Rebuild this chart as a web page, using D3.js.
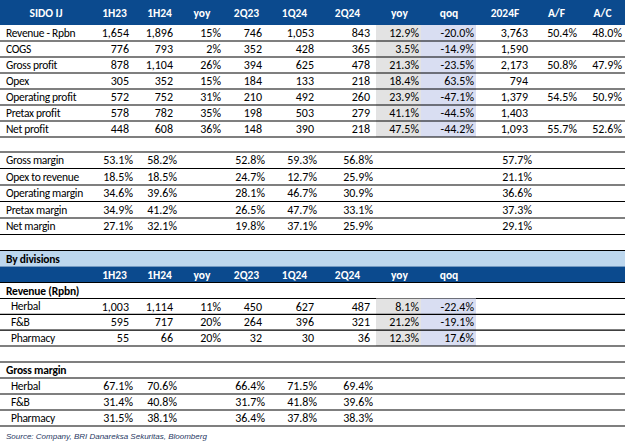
<!DOCTYPE html>
<html><head><meta charset="utf-8">
<script src="https://cdn.jsdelivr.net/npm/d3@7"></script>
<style>html,body{margin:0;padding:0;background:#fff;}svg{display:block;}</style>
</head><body>
<script>
// ---------- DATA ----------
const headerCols = ["1H23","1H24","yoy","2Q23","1Q24","2Q24","yoy","qoq","2024F","A/F","A/C"];
const plLabels = ["Revenue - Rpbn","COGS","Gross profit","Opex","Operating profit","Pretax profit","Net profit"];
const h1_23 = [1654,776,878,305,572,578,448];
const h1_24 = [1896,793,1104,352,752,782,608];
const h1_yoy = [15,2,26,15,31,35,36];
const q2_23 = [746,352,394,184,210,198,148];
const q1_24 = [1053,428,625,133,492,503,390];
const q2_24 = [843,365,478,218,260,279,218];
const q_yoy = [12.9,3.5,21.3,18.4,23.9,41.1,47.5];
const q_qoq = [-20.0,-14.9,-23.5,63.5,-47.1,-44.5,-44.2];
const fy24 = [3763,1590,2173,794,1379,1403,1093];
const a_f = [50.4,null,50.8,null,54.5,null,55.7];
const a_c = [48.0,null,47.9,null,50.9,null,52.6];

const marginLabels = ["Gross margin","Opex to revenue","Operating margin","Pretax margin","Net margin"];
const m_h23 = [53.1,18.5,34.6,34.9,27.1];
const m_h24 = [58.2,18.5,39.6,41.2,32.1];
const m_q223 = [52.8,24.7,28.1,26.5,19.8];
const m_q124 = [59.3,12.7,46.7,47.7,37.1];
const m_q224 = [56.8,25.9,30.9,33.1,25.9];
const m_fy24 = [57.7,21.1,36.6,37.3,29.1];

const divTitle = "By divisions";
const divRevTitle = "Revenue (Rpbn)";
const divGmTitle = "Gross margin";
const divLabels = ["Herbal","F&B","Pharmacy"];
const d_h23 = [1003,595,55];
const d_h24 = [1114,717,66];
const d_hyoy = [11,20,20];
const d_q223 = [450,264,32];
const d_q124 = [627,396,30];
const d_q224 = [487,321,36];
const d_yoy = [8.1,21.2,12.3];
const d_qoq = [-22.4,-19.1,17.6];
const gm_h23 = [67.1,31.4,31.5];
const gm_h24 = [70.6,40.8,38.1];
const gm_q223 = [66.4,31.7,36.4];
const gm_q124 = [71.5,41.8,37.8];
const gm_q224 = [69.4,39.6,38.3];
const sourceText = "Source: Company, BRI Danareksa Sekuritas, Bloomberg";

// ---------- LAYOUT ----------
const W = 626, H = 444;
const FONT = "Carlito, Calibri, Lato, 'Noto Sans', sans-serif";
const BLUE = "#0b4a8e", LIGHT = "#bdd7ee", GREY = "#e3e3e3", LAV = "#d9def2";
const colIdx = d3.range(headerCols.length);
const xCenter = d3.scaleOrdinal().domain(colIdx).range([114.5,159.5,202,246.5,294.5,347.5,399.5,449,505,556.5,602.5]);
const xRight = d3.scaleOrdinal().domain(colIdx).range([129,173,221,262,314,370,419,474,528,577,622]);
const xPctRight = d3.scaleOrdinal().domain(colIdx).range([133,177,221,265,317,373,419,474,532,577,622]);
const bandX = {yoy:[376,421], qoq:[421,476]};

const loc = d3.formatLocale({decimal:".",thousands:",",grouping:[3],currency:["",""],minus:"-"});
const fNum = loc.format(",");
const fP0 = v => loc.format(".0f")(v) + "%";
const fP1 = v => loc.format(".1f")(v) + "%";

const svg = d3.select("body").append("svg").attr("width", W).attr("height", H)
  .style("font-family", FONT);

function hline(y){ svg.append("line").attr("x1",0).attr("x2",625).attr("y1",y).attr("y2",y)
  .attr("stroke","#000").attr("stroke-width",1.2); }
function text(x,y,t,opt={}){
  return svg.append("text").attr("x",x).attr("y",y).attr("dy","0.35em")
    .attr("text-anchor",opt.anchor||"start").attr("font-size",opt.size||12)
    .attr("font-weight",opt.bold?"bold":"normal").attr("fill",opt.fill||"#000")
    .attr("letter-spacing",opt.ls||0)
    .attr("font-style",opt.italic?"italic":"normal").text(t);
}
const LBL = {size:11.5, ls:-0.3};
function headerRow(y0,y1,labels,first){
  svg.append("rect").attr("x",0).attr("y",y0).attr("width",625).attr("height",y1-y0).attr("fill",BLUE);
  const ym = (y0+y1)/2;
  if(first) text(46,ym,first,{anchor:"middle",bold:true,fill:"#fff",size:11.5});
  labels.forEach((l,i)=> text(xCenter(i),ym,l,{anchor:"middle",bold:true,fill:"#fff",size:11.5}));
}

// ---- Section 1: P&L ----
headerRow(0,25,headerCols,"SIDO IJ");
const y1 = d3.scaleBand().domain(plLabels).range([25,137]);
svg.append("rect").attr("x",bandX.yoy[0]).attr("y",25).attr("width",bandX.yoy[1]-bandX.yoy[0]).attr("height",112).attr("fill",GREY);
svg.append("rect").attr("x",bandX.qoq[0]).attr("y",25).attr("width",bandX.qoq[1]-bandX.qoq[0]).attr("height",112).attr("fill",LAV);
const plCols = [[h1_23,fNum],[h1_24,fNum],[h1_yoy,fP0],[q2_23,fNum],[q1_24,fNum],[q2_24,fNum],[q_yoy,fP1],[q_qoq,fP1],[fy24,fNum],[a_f,fP1],[a_c,fP1]];
plLabels.forEach((lab,r)=>{
  const ym = y1(lab)+y1.bandwidth()/2;
  text(6,ym,lab,LBL);
  plCols.forEach(([arr,f],c)=>{ if(arr[r]!=null) text(xRight(c),ym,f(arr[r]),{anchor:"end"}); });
  hline(y1(lab)+y1.bandwidth());
});

// ---- Section 2: margins ----
const y2 = d3.scaleBand().domain(marginLabels).range([152,234.5]);
hline(152);
const mCols = [[0,m_h23],[1,m_h24],[3,m_q223],[4,m_q124],[5,m_q224],[8,m_fy24]];
marginLabels.forEach((lab,r)=>{
  const ym = y2(lab)+y2.bandwidth()/2;
  text(6,ym,lab,LBL);
  mCols.forEach(([c,arr])=> text(xPctRight(c),ym,fP1(arr[r]),{anchor:"end"}));
  hline(y2(lab)+y2.bandwidth());
});

// ---- Section 3: divisions ----
svg.append("rect").attr("x",0).attr("y",250.5).attr("width",625).attr("height",16).attr("fill",LIGHT);
hline(250.5);
text(6,258.5,divTitle,{bold:true,size:11.5,ls:-0.2});
headerRow(266.5,282.5,headerCols.slice(0,8),null);
hline(282.5);
text(6,290.5,divRevTitle,{bold:true,size:11.5,ls:-0.2});
hline(298.5);
const y3 = d3.scaleBand().domain(divLabels).range([298.5,346]);
svg.append("rect").attr("x",bandX.yoy[0]).attr("y",298.5).attr("width",bandX.yoy[1]-bandX.yoy[0]).attr("height",47.5).attr("fill",GREY);
svg.append("rect").attr("x",bandX.qoq[0]).attr("y",298.5).attr("width",bandX.qoq[1]-bandX.qoq[0]).attr("height",47.5).attr("fill",LAV);
const dCols = [[d_h23,fNum],[d_h24,fNum],[d_hyoy,fP0],[d_q223,fNum],[d_q124,fNum],[d_q224,fNum],[d_yoy,fP1],[d_qoq,fP1]];
divLabels.forEach((lab,r)=>{
  const ym = y3(lab)+y3.bandwidth()/2;
  text(11,ym,lab,LBL);
  dCols.forEach(([arr,f],c)=> text(xRight(c),ym,f(arr[r]),{anchor:"end"}));
  hline(y3(lab)+y3.bandwidth());
});

// ---- Section 4: division gross margin ----
hline(362);
text(6,370,divGmTitle,{bold:true,size:11.5,ls:-0.2});
hline(378);
const y4 = d3.scaleBand().domain(divLabels).range([378,426]);
const gCols = [[0,gm_h23],[1,gm_h24],[3,gm_q223],[4,gm_q124],[5,gm_q224]];
divLabels.forEach((lab,r)=>{
  const ym = y4(lab)+y4.bandwidth()/2;
  text(11,ym,lab,LBL);
  gCols.forEach(([c,arr])=> text(xPctRight(c),ym,fP1(arr[r]),{anchor:"end"}));
  hline(y4(lab)+y4.bandwidth());
});

text(6,436,sourceText,{italic:true,size:8,fill:"#1f3864"}).style("font-family","'Liberation Sans', Arial, sans-serif");
</script>
</body></html>
